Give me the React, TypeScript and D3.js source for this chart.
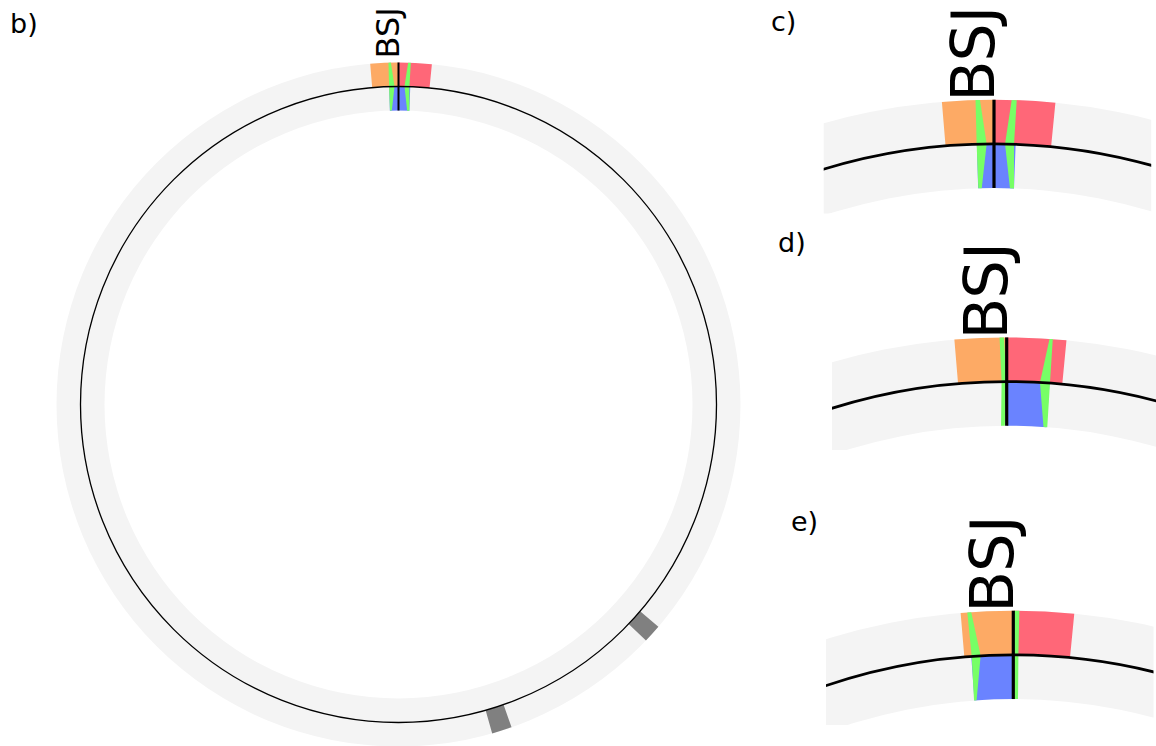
import React from "react";
import * as d3 from "d3";

// panel b shows the whole circle, c/d/e are close-ups around the junction
const panelLabels = ["b)", "c)", "d)", "e)"];
const junctionLabel = "BSJ";
const panelSample = [0, 0, 1, 2];

// angles in degrees, 0 = back-splice junction, clockwise
const upstreamExon = [[-4.75, 0], [-4.77, 0], [-4.8, 0]];
const downstreamExon = [[0, 5.6], [0, 5.45], [0, 5.56]];
const readSpan = [[-1.68, 2.12], [0, 4.2], [-4.12, 0.05]];
// wedge outlines: [angle, level] with level 1 = outer edge, 0 = backbone, -1 = inner edge
const readWedges = [
  [
    [[-1.68, 1], [-1.28, 1], [-0.72, 0], [-1.3, -1], [-1.66, -1], [-1.7, 0]],
    [[1.61, 1], [2.07, 1], [1.96, 0], [2.12, -1], [1.69, -1], [1.08, 0]],
  ],
  [
    [[-0.65, 1], [-0.25, 1], [-0.02, 0], [-0.2, -1], [-0.6, -1], [-0.5, 0]],
    [[3.9, 1], [4.2, 1], [4.24, 0], [4.3, -1], [3.9, -1], [3.26, 0]],
  ],
  [
    [[-4.19, 1], [-3.83, 1], [-3.2, 0], [-3.89, -1], [-4.16, -1], [-4.08, 0]],
    [[0.05, 1], [0.55, 1], [0.5, 0], [0.5, -1], [0.1, -1], [0.05, 0]],
  ],
];
const otherFeatures = [[130.55, 133.65], [160.7, 164.1]];

const W = 1156, H = 746;
const R_MID = 318, HALF = 24;

const views = [
  { cx: 398.5, cy: 404.5, s: 1, clip: null, font: 32, labelGap: 4, circleW: 1.3, lineW: 2,
    tag: { x: 10, y: 33 } },
  { cx: 994, cy: 729, s: 1.84, clip: [823.7, -100, 327.5, 313.5], font: 60, labelGap: -2, circleW: 2.8, lineW: 3.2,
    tag: { x: 771, y: 31 } },
  { cx: 1006.7, cy: 966.7, s: 1.84, clip: [832, 200, 330, 250], font: 61, labelGap: -2, circleW: 2.8, lineW: 3.2,
    tag: { x: 778, y: 252 } },
  { cx: 1013.3, cy: 1240, s: 1.84, clip: [826, 480, 327.5, 245], font: 61, labelGap: -2, circleW: 2.8, lineW: 3.2,
    tag: { x: 791, y: 531 } },
];

const COLORS = { ring: "#f4f4f4", up: "#fdaa65", down: "#ff6778", read: "#6a83ff", wedge: "#77ff66", other: "#808080" };
const rad = (d: number) => (d * Math.PI) / 180;

function Panel({ v, i }: { v: any; i: number }) {
  const k = panelSample[i];
  const r = d3.scaleLinear().domain([-1, 0, 1]).range([(R_MID - HALF) * v.s, R_MID * v.s, (R_MID + HALF) * v.s]);
  const arc = d3.arc<any>();
  const band = (a0: number, a1: number, l0: number, l1: number) =>
    arc({ innerRadius: r(l0), outerRadius: r(l1), startAngle: rad(a0), endAngle: rad(a1) }) as string;
  const wedge = d3.lineRadial<number[]>().angle((d) => rad(d[0])).radius((d) => r(d[1])).curve(d3.curveLinearClosed);
  const clipId = `clip-${i}`;
  const labelR = r(1) + v.labelGap;
  return (
    <g>
      {v.clip && (
        <defs>
          <clipPath id={clipId}>
            <rect x={v.clip[0]} y={v.clip[1]} width={v.clip[2]} height={v.clip[3]} />
          </clipPath>
        </defs>
      )}
      <g clipPath={v.clip ? `url(#${clipId})` : undefined}>
        <g transform={`translate(${v.cx},${v.cy})`}>
          <path d={band(0, 360, -1, 1)} fill={COLORS.ring} />
          {otherFeatures.map((f, j) => (
            <path key={j} d={band(f[0], f[1], 0, 1)} fill={COLORS.other} />
          ))}
          <path d={band(upstreamExon[k][0], upstreamExon[k][1], 0, 1)} fill={COLORS.up} />
          <path d={band(downstreamExon[k][0], downstreamExon[k][1], 0, 1)} fill={COLORS.down} />
          <path d={band(readSpan[k][0], readSpan[k][1], -1, 0)} fill={COLORS.read} />
          {readWedges[k].map((w, j) => (
            <path key={j} d={wedge(w as any) as string} fill={COLORS.wedge} />
          ))}
          <circle r={r(0)} fill="none" stroke="#000" strokeWidth={v.circleW} />
          <line x1={0} x2={0} y1={-r(-1)} y2={-r(1)} stroke="#000" strokeWidth={v.lineW} />
          <text transform={`translate(0,${-labelR}) rotate(-90)`} fontSize={v.font}
            fontFamily="DejaVu Sans" fill="#000">{junctionLabel}</text>
        </g>
      </g>
      <text x={v.tag.x} y={v.tag.y} fontSize={27} fontFamily="DejaVu Sans" fill="#000">{panelLabels[i]}</text>
    </g>
  );
}

export default function App() {
  return (
    <svg width={W} height={H} style={{ position: "absolute", left: 0, top: 0, background: "#fff" }}>
      {views.map((v, i) => <Panel key={i} v={v} i={i} />)}
    </svg>
  );
}
